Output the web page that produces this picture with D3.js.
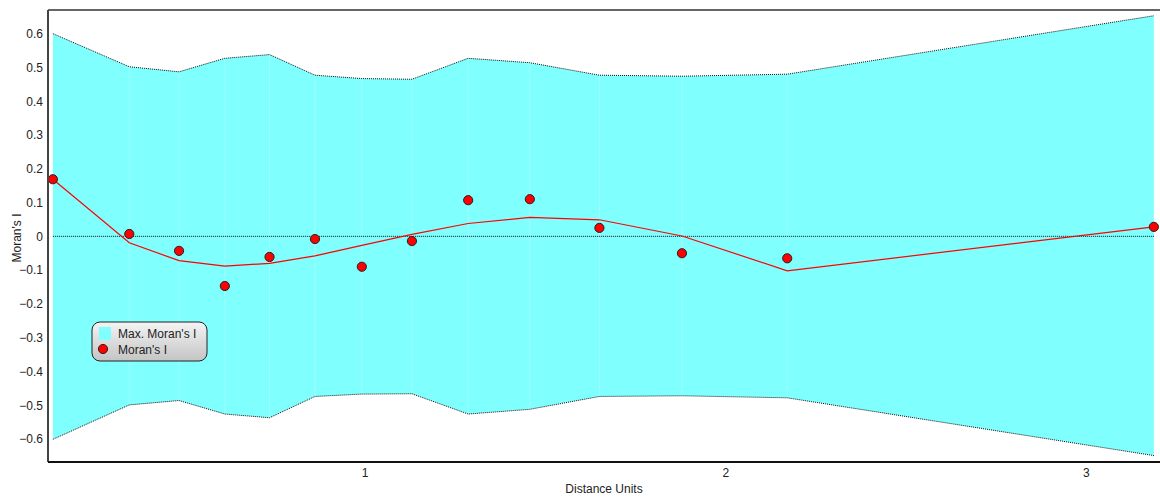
<!DOCTYPE html>
<html>
<head>
<meta charset="utf-8">
<script src="https://cdn.jsdelivr.net/npm/d3@7"></script>
<style>
  body { margin: 0; background: #fff; }
  text { font-family: "Liberation Sans", Arial, sans-serif; fill: #222; }
</style>
</head>
<body>
<div class="canvas"></div>
<script>
// data
const distance = [0.135, 0.347, 0.485, 0.612, 0.736, 0.862, 0.992, 1.131, 1.287, 1.458, 1.651, 1.880, 2.172, 3.189];
const moransI  = [0.169, 0.007, -0.043, -0.147, -0.061, -0.008, -0.090, -0.014, 0.107, 0.110, 0.025, -0.050, -0.065, 0.028];
const fitted   = [0.169, -0.019, -0.072, -0.088, -0.080, -0.058, -0.027, 0.006, 0.038, 0.056, 0.049, 0.001, -0.102, 0.028];
const maxUpper = [0.600, 0.502, 0.487, 0.527, 0.538, 0.477, 0.467, 0.465, 0.527, 0.514, 0.477, 0.474, 0.480, 0.653];
const maxLower = [-0.601, -0.499, -0.486, -0.526, -0.537, -0.474, -0.467, -0.466, -0.526, -0.512, -0.474, -0.472, -0.478, -0.649];
const yTicks = [-0.6, -0.5, -0.4, -0.3, -0.2, -0.1, 0, 0.1, 0.2, 0.3, 0.4, 0.5, 0.6];
const xTicks = [1, 2, 3];

const width = 1160, height = 498;
const margin = {top: 10, right: 0, bottom: 36, left: 48};

const svg = d3.select('.canvas')
  .append('svg')
    .attr('width', width)
    .attr('height', height)
    .style('display', 'block');

const x = d3.scaleLinear()
  .domain([0.1215, 3.206])
  .range([margin.left, width - margin.right]);
const y = d3.scaleLinear()
  .domain([-0.668, 0.67])
  .range([height - margin.bottom, margin.top]);

const rows = distance.map((d, i) => ({
  x: d, i: moransI[i], fit: fitted[i], hi: maxUpper[i], lo: maxLower[i]
}));

// envelope
const area = d3.area()
  .x(d => x(d.x))
  .y0(d => y(d.lo))
  .y1(d => y(d.hi));
svg.append('path')
  .datum(rows)
  .attr('d', area)
  .attr('fill', '#80ffff');

// faint seams between envelope pieces
svg.selectAll('.seam')
  .data(rows.slice(1, -1))
  .enter().append('line')
    .attr('x1', d => x(d.x)).attr('x2', d => x(d.x))
    .attr('y1', d => y(d.hi)).attr('y2', d => y(d.lo))
    .attr('stroke', '#fff')
    .attr('stroke-opacity', 0.22)
    .attr('stroke-width', 1);

['hi', 'lo'].forEach(k => {
  svg.append('path')
    .datum(rows)
    .attr('d', d3.line().x(d => x(d.x)).y(d => y(d[k])))
    .attr('fill', 'none')
    .attr('stroke', '#111')
    .attr('stroke-width', 1)
    .attr('stroke-dasharray', '1,1');
});

// zero line
svg.append('line')
  .attr('x1', x(distance[0])).attr('x2', x(distance[distance.length - 1]))
  .attr('y1', y(0)).attr('y2', y(0))
  .attr('stroke', '#111')
  .attr('stroke-width', 1)
  .attr('stroke-dasharray', '1,1');

// fitted line
svg.append('path')
  .datum(rows)
  .attr('d', d3.line().x(d => x(d.x)).y(d => y(d.fit)))
  .attr('fill', 'none')
  .attr('stroke', '#ff0000')
  .attr('stroke-width', 1.2);

// points
svg.selectAll('.pt')
  .data(rows)
  .enter().append('circle')
    .attr('cx', d => x(d.x))
    .attr('cy', d => y(d.i))
    .attr('r', 4.6)
    .attr('fill', '#ff0000')
    .attr('stroke', '#222')
    .attr('stroke-width', 1);

// frame
const plotTop = margin.top, plotBottom = height - margin.bottom, plotLeft = margin.left;
svg.append('line').attr('x1', plotLeft).attr('x2', width).attr('y1', plotTop).attr('y2', plotTop)
  .attr('stroke', '#666').attr('stroke-width', 2);
svg.append('line').attr('x1', plotLeft).attr('x2', plotLeft).attr('y1', plotTop).attr('y2', plotBottom)
  .attr('stroke', '#444').attr('stroke-width', 2);
svg.append('line').attr('x1', plotLeft).attr('x2', width).attr('y1', plotBottom).attr('y2', plotBottom)
  .attr('stroke', '#111').attr('stroke-width', 2);

// axes (labels only)
const yAxis = d3.axisLeft(y)
  .tickValues(yTicks)
  .tickSize(0)
  .tickPadding(4)
  .tickFormat(d => d === 0 ? '0' : d3.format('.1f')(d));
const yAxisGroup = svg.append('g')
  .attr('transform', `translate(${plotLeft - 1}, 0)`)
  .call(yAxis);
yAxisGroup.select('.domain').remove();
yAxisGroup.selectAll('text').attr('font-size', 12).attr('fill', '#222')
  .style('font-family', '"Liberation Sans", Arial, sans-serif');

const xAxis = d3.axisBottom(x)
  .tickValues(xTicks)
  .tickSize(0)
  .tickPadding(6)
  .tickFormat(d3.format('d'));
const xAxisGroup = svg.append('g')
  .attr('transform', `translate(0, ${plotBottom})`)
  .call(xAxis);
xAxisGroup.select('.domain').remove();
xAxisGroup.selectAll('text').attr('font-size', 12).attr('fill', '#222')
  .style('font-family', '"Liberation Sans", Arial, sans-serif');

// axis titles
svg.append('text')
  .attr('x', 604).attr('y', 493)
  .attr('text-anchor', 'middle')
  .attr('font-size', 12)
  .text('Distance Units');
svg.append('text')
  .attr('transform', 'translate(21, 238) rotate(-90)')
  .attr('text-anchor', 'middle')
  .attr('font-size', 12)
  .text("Moran's I");

// legend
const defs = svg.append('defs');
const grad = defs.append('linearGradient')
  .attr('id', 'legGrad').attr('x1', 0).attr('y1', 0).attr('x2', 0).attr('y2', 1);
grad.append('stop').attr('offset', '0%').attr('stop-color', '#f4f4f4');
grad.append('stop').attr('offset', '100%').attr('stop-color', '#c4c4c4');

const legend = svg.append('g').attr('transform', 'translate(92, 322)');
legend.append('rect')
  .attr('width', 115).attr('height', 39)
  .attr('rx', 8).attr('ry', 8)
  .attr('fill', 'url(#legGrad)')
  .attr('stroke', '#222')
  .attr('stroke-width', 1);
legend.append('rect')
  .attr('x', 7).attr('y', 5).attr('width', 12).attr('height', 13)
  .attr('fill', '#80ffff');
legend.append('text')
  .attr('x', 26).attr('y', 15.5)
  .attr('font-size', 12)
  .text("Max. Moran's I");
legend.append('circle')
  .attr('cx', 11).attr('cy', 27).attr('r', 4.6)
  .attr('fill', '#ff0000').attr('stroke', '#222').attr('stroke-width', 1);
legend.append('text')
  .attr('x', 26).attr('y', 32)
  .attr('font-size', 12)
  .text("Moran's I");
</script>
</body>
</html>
